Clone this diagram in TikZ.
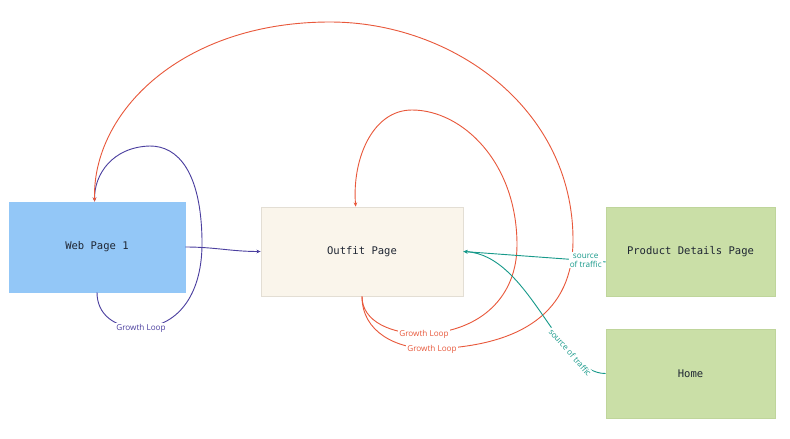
\documentclass[tikz,border=0pt]{standalone}
\usepackage{fontspec}
\setmonofont{DejaVu Sans Mono}
\newfontfamily\lblfont{Open Sans}
\usetikzlibrary{arrows.meta}

\definecolor{wpblue}{HTML}{93C7F7}
\definecolor{opcream}{HTML}{FAF5EB}
\definecolor{opedge}{HTML}{E3DED4}
\definecolor{pgreen}{HTML}{CADFA7}
\definecolor{pedge}{HTML}{BFD59B}
\definecolor{loopviolet}{HTML}{4B3F9F}
\definecolor{loopred}{HTML}{E8583B}
\definecolor{traffic}{HTML}{17998A}
\definecolor{boxtext}{HTML}{1F2633}

\tikzset{
	page/.style={draw, line width=0.5pt, inner sep=0pt, text=boxtext,
		font=\ttfamily\fontsize{7.5}{9}\selectfont},
	flow/.style={line width=0.65pt, -{Stealth[length=3pt,width=2.6pt]}},
	tag/.style={fill=white, inner sep=0.8pt, font=\lblfont\fontsize{5.8}{6.6}\selectfont}
}

\begin{document}
\begin{tikzpicture}[x=0.025cm, y=-0.025cm]
	\useasboundingbox (0,0) rectangle (790,439);

	\node [page, fill=wpblue, draw=wpblue, minimum width=4.4cm, minimum height=2.25cm]
		(wp) at (97,247) {Web Page 1};
	\node [page, fill=opcream, draw=opedge, minimum width=5.05cm, minimum height=2.225cm]
		(op) at (362,251.5) {Outfit Page};
	\node [page, fill=pgreen, draw=pedge, minimum width=4.225cm, minimum height=2.225cm]
		(pd) at (690.5,251.5) {Product Details Page};
	\node [page, fill=pgreen, draw=pedge, minimum width=4.225cm, minimum height=2.225cm]
		(home) at (690.5,373.5) {Home};

	\draw [flow, loopviolet] (wp.east) to [out=0, in=180] (op.west);

	\draw [flow, loopviolet] (wp.south)
		.. controls (97,315) and (115,328) .. (141,328)
		node [tag, text=loopviolet] {Growth Loop}
		.. controls (180,326) and (203,292) .. (202,240)
		.. controls (201,172) and (178,146) .. (150,146)
		.. controls (112,147) and (94,175) .. (wp.93);

	\draw [flow, loopred] (op.south)
		.. controls (362,322) and (392,334) .. (424,334)
		node [tag, text=loopred] {Growth Loop}
		.. controls (482,331) and (517,296) .. (517,245)
		.. controls (517,162) and (462,110) .. (412,110)
		.. controls (372,110) and (352,160) .. (op.98);

	\draw [flow, loopred] (op.south)
		.. controls (362,332) and (396,349) .. (432,349)
		node [tag, text=loopred] {Growth Loop}
		.. controls (522,346) and (573,312) .. (573,240)
		.. controls (573,108) and (452,22) .. (330,22)
		.. controls (182,22) and (92,112) .. (wp.93);

	\draw [flow, traffic] (pd.187) --
		node [tag, pos=0.14, text=traffic, align=center] {source\\of traffic}
		(op.east);

	\draw [flow, traffic] (home.west)
		.. controls (558,374) and (530,255) .. (op.east)
		node [tag, pos=0.27, sloped, text=traffic] {source of traffic};
\end{tikzpicture}
\end{document}
